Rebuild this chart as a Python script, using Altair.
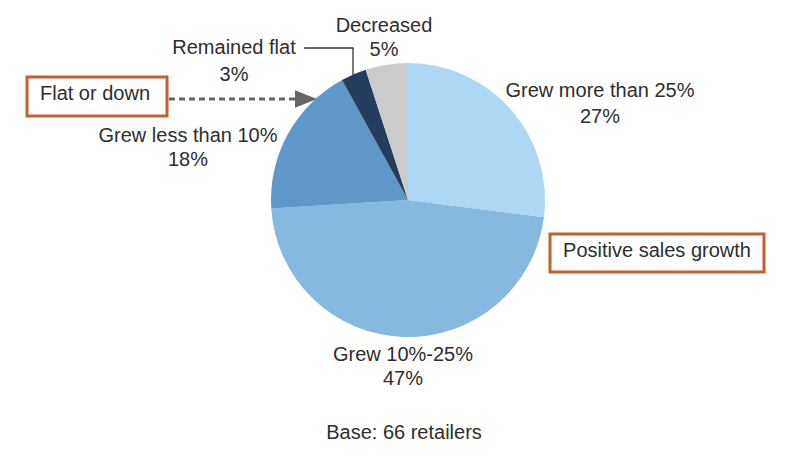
import altair as alt
import pandas as pd

# ---- data ----
labels = ["Grew more than 25%", "Grew 10%-25%", "Grew less than 10%", "Remained flat", "Decreased"]
values = [27, 47, 18, 3, 5]
colors = ["#add8f5", "#85b9e0", "#5f97c9", "#243d5c", "#cbcbcb"]
base_note = "Base: 66 retailers"
box_left = "Flat or down"
box_right = "Positive sales growth"

df = pd.DataFrame({"label": labels, "value": values, "order": list(range(len(labels)))})

FONT = "Liberation Sans"
TXT = "#2e2e2e"
CX, CY, R = 400, 192, 137

pie = alt.Chart(df).mark_arc(outerRadius=R).encode(
    theta=alt.Theta("value:Q", stack=True),
    color=alt.Color("label:N", scale=alt.Scale(domain=labels, range=colors), legend=None),
    order=alt.Order("order:Q"),
    x=alt.value(CX),
    y=alt.value(CY),
)

# label positions (pixels, chart coords) and line heights
label_pos = {
    "Grew more than 25%": (592, 89, 26),
    "Grew 10%-25%": (395, 353, 24),
    "Grew less than 10%": (180, 134, 24),
    "Remained flat": (226, 46, 27),
    "Decreased": (376, 24, 24),
}

layers = [pie]
for lab in labels:
    px, py, lh = label_pos[lab]
    layers.append(
        alt.Chart(df)
        .transform_filter(alt.datum.label == lab)
        .transform_calculate(txt="datum.label + '\\n' + datum.value + '%'")
        .mark_text(font=FONT, fontSize=20, color=TXT, align="center", baseline="alphabetic",
                   lineBreak="\n", lineHeight=lh)
        .encode(text="txt:N", x=alt.value(px), y=alt.value(py))
    )

one = pd.DataFrame({"a": [0]})

# leader line for "Remained flat"
lead_h = alt.Chart(one).mark_rule(color="#333333", strokeWidth=1.3).encode(
    x=alt.value(296), x2=alt.value(345.5), y=alt.value(40), y2=alt.value(40))
lead_v = alt.Chart(one).mark_rule(color="#333333", strokeWidth=1.3).encode(
    x=alt.value(345), x2=alt.value(345), y=alt.value(40), y2=alt.value(67))

# boxes
box1 = alt.Chart(one).mark_rect(fill="white", stroke="#c0622e", strokeWidth=3).encode(
    x=alt.value(19), x2=alt.value(159), y=alt.value(69), y2=alt.value(108))
box1_t = alt.Chart(one).mark_text(font=FONT, fontSize=20, color=TXT, align="center",
                                  baseline="alphabetic", text=box_left).encode(
    x=alt.value(87), y=alt.value(92))
box2 = alt.Chart(one).mark_rect(fill="white", stroke="#c0622e", strokeWidth=3).encode(
    x=alt.value(542), x2=alt.value(756), y=alt.value(226), y2=alt.value(264))
box2_t = alt.Chart(one).mark_text(font=FONT, fontSize=20, color=TXT, align="center",
                                  baseline="alphabetic", text=box_right).encode(
    x=alt.value(649), y=alt.value(249))

# dashed arrow
arrow = alt.Chart(one).mark_rule(color="#666666", strokeWidth=3, strokeDash=[6, 4]).encode(
    x=alt.value(161), x2=alt.value(290), y=alt.value(91), y2=alt.value(91))
head = alt.Chart(one).mark_point(shape="M -1 -0.8 L 1 0 L -1 0.8 Z", filled=True, opacity=1,
                                 color="#666666", size=484, strokeWidth=0).encode(
    x=alt.value(298), y=alt.value(91))

base = alt.Chart(one).mark_text(font=FONT, fontSize=20, color=TXT, align="center",
                                baseline="alphabetic", text=base_note).encode(
    x=alt.value(396), y=alt.value(431))

chart = alt.layer(*layers, lead_h, lead_v, arrow, head, box1, box1_t, box2, box2_t, base).properties(
    width=777, height=440, padding=0, autosize=alt.AutoSizeParams(type="none")
).configure_view(stroke=None)

chart.save("out.html", embed_options={"renderer": "svg", "actions": False})
